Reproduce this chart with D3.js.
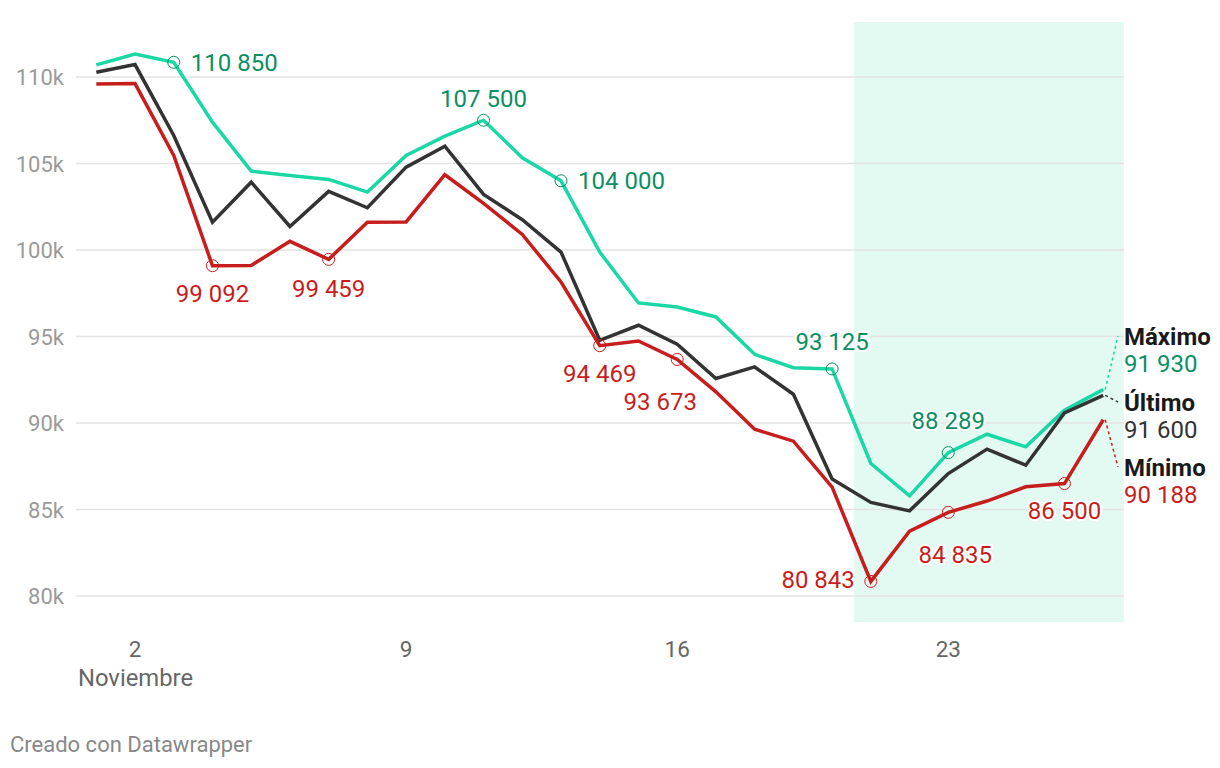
<!DOCTYPE html>
<html>
<head>
<meta charset="utf-8">
<script src="https://cdn.jsdelivr.net/npm/d3@7"></script>
<style>
  body { margin: 0; background: white; font-family: Roboto, "Noto Sans", sans-serif; }
  svg text { font-family: Roboto, "Noto Sans", sans-serif; }
</style>
</head>
<body>
<svg width="1220" height="768"></svg>
<script>
const svg = d3.select('svg');

// dias de noviembre
const days = d3.range(1, 28);
const maximo = [110700, 111330, 110850, 107390, 104560, 104310, 104080, 103350, 105460, 106580, 107500,
  105330, 104000, 99880, 96940, 96700, 96130, 93970, 93200, 93125, 87660, 85790, 88289, 89350, 88620, 90740, 91930];
const ultimo = [110270, 110720, 106620, 101610, 103920, 101360, 103390, 102440, 104790, 106000, 103210,
  101750, 99880, 94780, 95650, 94550, 92570, 93240, 91660, 86760, 85410, 84920, 87080, 88490, 87560, 90580, 91600];
const minimo = [109600, 109620, 105460, 99092, 99110, 100500, 99459, 101610, 101620, 104350, 102690,
  100900, 98150, 94469, 94740, 93673, 91800, 89640, 88950, 86290, 80843, 83750, 84835, 85490, 86310, 86500, 90188];

const yTicks = [80000, 85000, 90000, 95000, 100000, 105000, 110000];
const xTicks = [2, 9, 16, 23];
const band = [20.56, 27.53];

const colors = { max: '#1ad8a5', ult: '#333333', min: '#c71e1d' };
const labelColors = { max: '#0b8f63', ult: '#333333', min: '#c71e1d' };

const fmt = v => d3.format(',')(v).replace(/,/g, ' ');

const x = d3.scaleLinear().domain([1, 27]).range([96.3, 1103.2]);
const y = d3.scaleLinear().domain([80000, 110000]).range([596, 77]);

// banda sombreada
svg.append('rect')
  .attr('x', x(band[0]))
  .attr('y', 22)
  .attr('width', x(band[1]) - x(band[0]))
  .attr('height', 600)
  .attr('fill', '#e3faf3');

// rejilla y eje y
const yAxis = svg.append('g');
yAxis.selectAll('line').data(yTicks).enter().append('line')
  .attr('x1', 76).attr('x2', 1124)
  .attr('y1', d => y(d)).attr('y2', d => y(d))
  .attr('stroke', '#e3e3e3').attr('stroke-width', 1.5);
yAxis.selectAll('text').data(yTicks).enter().append('text')
  .attr('x', 64).attr('y', d => y(d) + 8)
  .attr('text-anchor', 'end')
  .attr('font-size', 22).attr('fill', '#9a9a9a')
  .text(d => (d / 1000) + 'k');

// eje x
svg.selectAll('.xt').data(xTicks).enter().append('text')
  .attr('x', d => x(d)).attr('y', 657)
  .attr('text-anchor', 'middle')
  .attr('font-size', 22.5).attr('fill', '#666')
  .text(d => d);
svg.append('text').attr('x', 78).attr('y', 686)
  .attr('font-size', 23.8).attr('fill', '#666').text('Noviembre');

// lineas
const line = d3.line().x((d, i) => x(days[i])).y(d => y(d));
const series = [
  { key: 'max', values: maximo },
  { key: 'ult', values: ultimo },
  { key: 'min', values: minimo }
];
svg.selectAll('.serie').data(series).enter().append('path')
  .attr('d', d => line(d.values))
  .attr('fill', 'none')
  .attr('stroke', d => colors[d.key])
  .attr('stroke-width', 3.5)
  .attr('stroke-linejoin', 'miter');

// anotaciones: [serie, dia, dx, dy, anchor]
const notes = [
  ['max', 3, 17, 0, 'start'],
  ['max', 11, 0, -22, 'middle'],
  ['max', 13, 17, 0, 'start'],
  ['max', 20, 0, -27, 'middle'],
  ['max', 23, 0, -32, 'middle'],
  ['min', 4, 0, 28, 'middle'],
  ['min', 7, 0, 29, 'middle'],
  ['min', 14, 0, 28, 'middle'],
  ['min', 16, -17, 42, 'middle'],
  ['min', 21, -16, -2, 'end'],
  ['min', 23, 7, 42, 'middle'],
  ['min', 26, 0, 27, 'middle']
];
const valueOf = (k, d) => ({ max: maximo, ult: ultimo, min: minimo })[k][days.indexOf(d)];

const ann = svg.append('g');
ann.selectAll('circle').data(notes).enter().append('circle')
  .attr('cx', d => x(d[1])).attr('cy', d => y(valueOf(d[0], d[1])))
  .attr('r', 6)
  .attr('fill', 'none')
  .attr('stroke', d => labelColors[d[0]])
  .attr('stroke-width', 1);
ann.selectAll('text').data(notes).enter().append('text')
  .attr('x', d => x(d[1]) + d[2])
  .attr('y', d => y(valueOf(d[0], d[1])) + d[3] + 8.5)
  .attr('text-anchor', d => d[4])
  .attr('font-size', 24)
  .attr('fill', d => labelColors[d[0]])
  .attr('stroke', 'white').attr('stroke-width', 4)
  .attr('paint-order', 'stroke')
  .text(d => fmt(valueOf(d[0], d[1])));

// etiquetas finales
const ends = [
  { key: 'max', name: 'Máximo', value: maximo[26], ly: 336 },
  { key: 'ult', name: 'Último', value: ultimo[26], ly: 402 },
  { key: 'min', name: 'Mínimo', value: minimo[26], ly: 467 }
];
const endG = svg.append('g');
endG.selectAll('line').data(ends).enter().append('line')
  .attr('x1', x(27) + 2).attr('y1', d => y(d.value))
  .attr('x2', 1118).attr('y2', d => d.ly)
  .attr('stroke', d => colors[d.key])
  .attr('stroke-width', 1.5)
  .attr('stroke-dasharray', '3,3');
endG.selectAll('.n').data(ends).enter().append('text')
  .attr('x', 1124).attr('y', d => d.ly + 8.5)
  .attr('font-size', 24).attr('font-weight', 'bold').attr('fill', '#1a1a1a')
  .text(d => d.name);
endG.selectAll('.v').data(ends).enter().append('text')
  .attr('x', 1124).attr('y', d => d.ly + 35.5)
  .attr('font-size', 24).attr('fill', d => labelColors[d.key])
  .text(d => fmt(d.value));

// pie
svg.append('text').attr('x', 10).attr('y', 752)
  .attr('font-size', 22).attr('fill', '#888')
  .text('Creado con Datawrapper');
</script>
</body>
</html>
